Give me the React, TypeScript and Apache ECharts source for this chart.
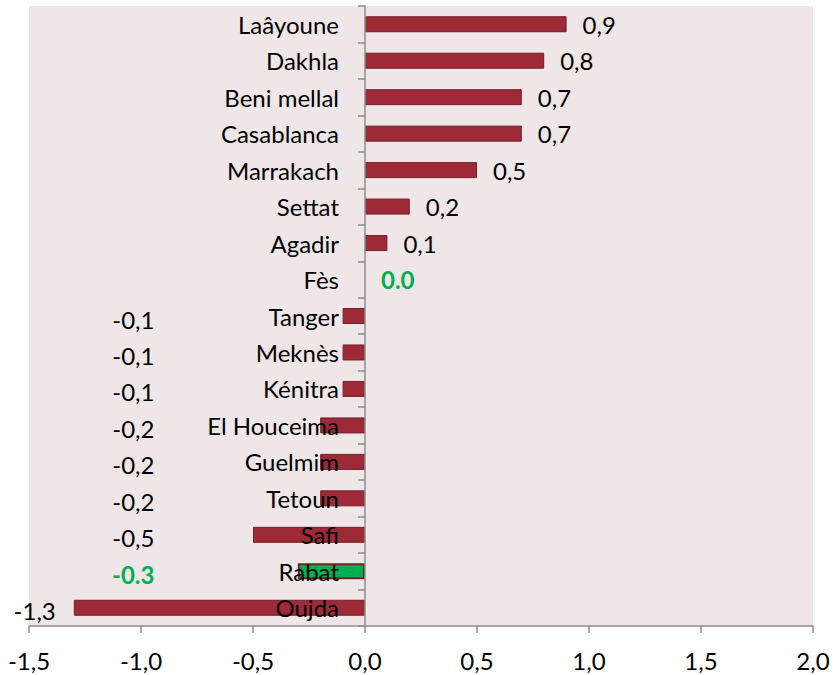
import React, { useEffect, useRef } from "react";
import * as echarts from "echarts";

const categories = [
  "Laâyoune", "Dakhla", "Beni mellal", "Casablanca", "Marrakach", "Settat", "Agadir", "Fès",
  "Tanger", "Meknès", "Kénitra", "El Houceima", "Guelmim", "Tetoun", "Safi", "Rabat", "Oujda",
];
const values = [0.9, 0.8, 0.7, 0.7, 0.5, 0.2, 0.1, 0.0, -0.1, -0.1, -0.1, -0.2, -0.2, -0.2, -0.5, -0.3, -1.3];
const highlighted = ["Fès", "Rabat"];
const xMin = -1.5;
const xMax = 2.0;
const xStep = 0.5;
// negative value labels are aligned near this x value (except the longest bar)
const negLabelAnchor = -0.94;

const FONT = "Lato";
const RED = "#9E2937";
const RED_BORDER = "#74202A";
const GREEN = "#00B050";
const AXIS = "#8C8C8C";

const fmtComma = (v: number) => v.toFixed(1).replace(".", ",");

export default function App() {
  const ref = useRef<HTMLDivElement>(null);
  useEffect(() => {
    if (!ref.current) return;
    const chart = echarts.init(ref.current, null, { renderer: "svg" });

    const buildData = (pxScale: ((v: number) => number) | null) =>
      values.map((v, i) => {
        const hi = highlighted.includes(categories[i]);
        const label: any = {
          show: true,
          fontFamily: FONT,
          fontSize: 24,
          color: hi ? GREEN : "#000",
          fontWeight: hi ? "bold" : "normal",
          formatter: hi ? v.toFixed(1) : fmtComma(v),
        };
        if (v < 0) {
          label.position = "left";
          if (v > negLabelAnchor && pxScale) {
            label.distance = pxScale(v) - pxScale(negLabelAnchor);
          } else {
            label.distance = 18;
          }
          label.offset = [0, 3];
        } else {
          label.position = "right";
          label.distance = 16;
        }
        return {
          value: v,
          itemStyle: {
            color: categories[i] === "Rabat" ? GREEN : RED,
            borderColor: RED_BORDER,
            borderWidth: v === 0 ? 0 : categories[i] === "Rabat" ? 2 : 1,
          },
          label,
        };
      });

    const option: any = {
      animation: false,
      backgroundColor: "#ffffff",
      grid: {
        left: 29,
        right: 22,
        top: 6,
        bottom: 49,
        containLabel: false,
        outerBoundsMode: "none",
        show: true,
        backgroundColor: "#EFE6E7",
        borderWidth: 0,
      },
      xAxis: {
        type: "value",
        min: xMin,
        max: xMax,
        interval: xStep,
        splitLine: { show: false },
        axisLine: { show: true, lineStyle: { color: AXIS, width: 1.5 } },
        axisTick: { show: true, length: 7, lineStyle: { color: AXIS, width: 1.5 } },
        axisLabel: {
          margin: 22,
          fontFamily: FONT,
          fontSize: 24,
          color: "#000",
          formatter: (v: number) => fmtComma(v),
        },
      },
      yAxis: {
        type: "category",
        data: categories,
        inverse: true,
        z: 10,
        offset: 0,
        axisLine: { show: true, onZero: false, lineStyle: { color: AXIS, width: 1.5 } },
        axisTick: { show: true, length: 7, inside: false, lineStyle: { color: AXIS, width: 1.5 } },
        axisLabel: {
          margin: 26,
          fontFamily: FONT,
          fontSize: 24,
          color: "#000",
        },
        splitLine: { show: false },
      },
      series: [
        {
          type: "bar",
          barWidth: 16,
          z: 2,
          data: buildData(null),
        },
      ],
    };
    chart.setOption(option);
    const px = (v: number) => chart.convertToPixel({ xAxisIndex: 0 }, v) as number;
    chart.setOption({
      yAxis: { offset: -(px(0) - px(xMin)) },
      series: [{ data: buildData(px) }],
    });

    return () => chart.dispose();
  }, []);

  return (
    <div
      ref={ref}
      style={{ position: "fixed", left: 0, top: 0, width: 835, height: 675, background: "#fff" }}
    />
  );
}
